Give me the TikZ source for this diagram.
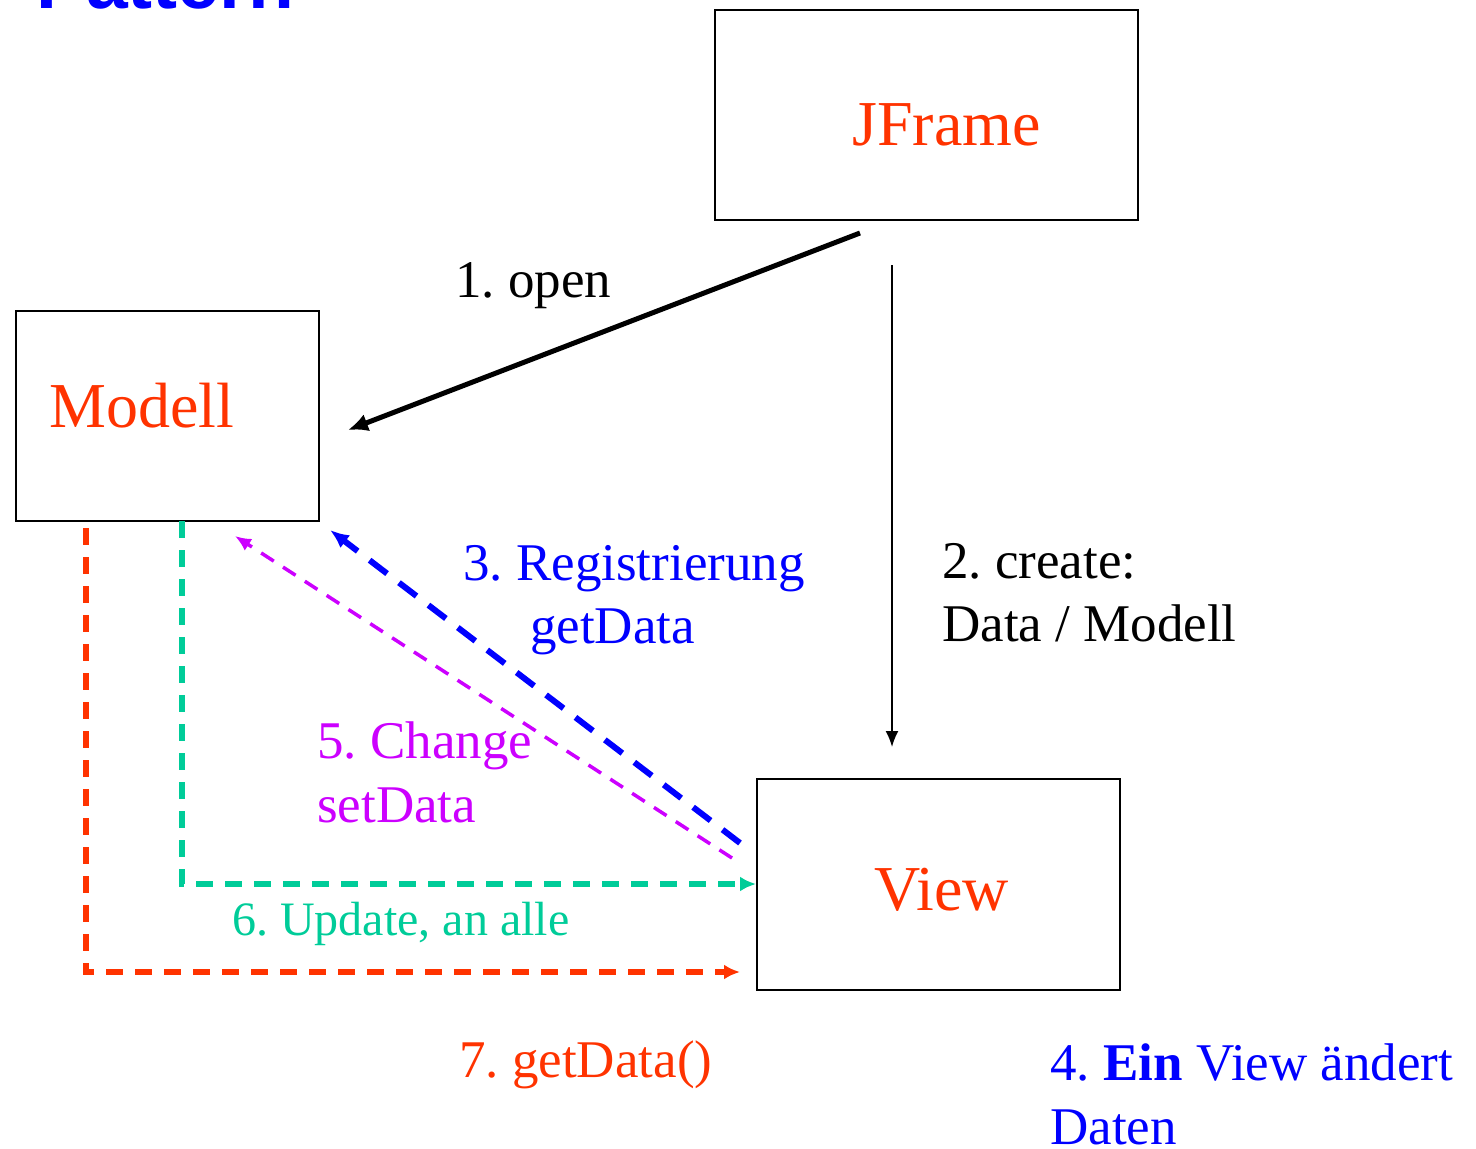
\documentclass[tikz,border=0pt]{standalone}
\usepackage{fontspec}
\setmainfont{Liberation Serif}
\newfontfamily\titlefont{Liberation Sans}
\usetikzlibrary{arrows.meta}
\definecolor{jred}{HTML}{FF3300}
\definecolor{jblue}{HTML}{0000FF}
\definecolor{jmag}{HTML}{CC00FF}
\definecolor{jgreen}{HTML}{00CC99}
\frenchspacing
\begin{document}
\begin{tikzpicture}[x=1pt,y=-1pt,
  box/.style={draw, line width=1.6pt, inner sep=0pt, anchor=north west},
  boxlbl/.style={text=jred, font=\fontsize{64}{70}\selectfont, inner sep=0pt, anchor=base west},
  lbl/.style={font=\fontsize{53}{64}\selectfont, inner sep=0pt, anchor=base west},
  smalllbl/.style={font=\fontsize{48}{58}\selectfont, inner sep=0pt, anchor=base west},
  openarrow/.style={line width=5pt, -{Latex[length=20pt,width=18pt]}},
  createarrow/.style={line width=1.8pt, -{Latex[length=16pt,width=13pt]}},
  regarrow/.style={jblue, line width=6pt, dash pattern=on 22pt off 15pt, -{Latex[length=19pt,width=16pt]}},
  chgarrow/.style={jmag, line width=3.5pt, dash pattern=on 15pt off 11pt, -{Latex[length=16pt,width=14pt]}},
  updarrow/.style={jgreen, line width=5.5pt, dash pattern=on 17pt off 12pt, -{Latex[length=16pt,width=15pt]}},
  getarrow/.style={jred, line width=5.5pt, dash pattern=on 17pt off 12pt, -{Latex[length=16pt,width=15pt]}}
]
\useasboundingbox (0,0) rectangle (1476,1149);

% title remnant
\node[text=jblue, font=\titlefont\bfseries\fontsize{75}{80}\selectfont, inner sep=0pt, anchor=base west] (title) at (36,8) {Pattern};

% boxes
\node[box, minimum width=423pt, minimum height=210pt] (jframe) at (714,9) {};
\node[box, minimum width=303pt, minimum height=210pt] (modell) at (15,310) {};
\node[box, minimum width=363pt, minimum height=211pt] (view) at (756,778) {};

\node[boxlbl] (jframetxt) at (852,145) {JFrame};
\node[boxlbl] (modelltxt) at (49,427) {Modell};
\node[boxlbl] (viewtxt) at (874,910) {View};

% connector end points
\coordinate (openS) at (860,233);
\coordinate (openE) at (348,430);
\coordinate (creS) at (892,265);
\coordinate (creE) at (892,747);
\coordinate (regS) at (740,843);
\coordinate (regE) at (330,530);
\coordinate (chgS) at (732,858);
\coordinate (chgE) at (235,536);
\coordinate (updS) at (182,521);
\coordinate (updC) at (182,884);
\coordinate (updE) at (756,884);
\coordinate (getS) at (86,528);
\coordinate (getC) at (86,972);
\coordinate (getE) at (740,972);

\draw[openarrow] (openS) -- (openE);
\draw[createarrow] (creS) -- (creE);
\draw[regarrow] (regS) -- (regE);
\draw[chgarrow] (chgS) -- (chgE);
\draw[updarrow] (updS) -- (updC) -- (updE);
\draw[getarrow] (getS) -- (getC) -- (getE);

% labels
\node[lbl] (l1) at (455,297) {1. open};
\node[lbl] (l2a) at (942,578) {2. create:};
\node[lbl] (l2b) at (942,641) {Data / Modell};
\node[lbl, text=jblue] (l3a) at (463,580) {3. Registrierung};
\node[lbl, text=jblue] (l3b) at (530,643) {getData};
\node[lbl, text=jmag] (l5a) at (317,758) {5. Change};
\node[lbl, text=jmag] (l5b) at (317,822) {setData};
\node[smalllbl, text=jgreen] (l6) at (232,935) {6. Update, an alle};
\node[lbl, text=jred] (l7) at (459,1077) {7. getData()};
\node[lbl, text=jblue] (l4a) at (1050,1080) {4. \textbf{Ein} View ändert};
\node[lbl, text=jblue] (l4b) at (1050,1144) {Daten};
\end{tikzpicture}
\end{document}
